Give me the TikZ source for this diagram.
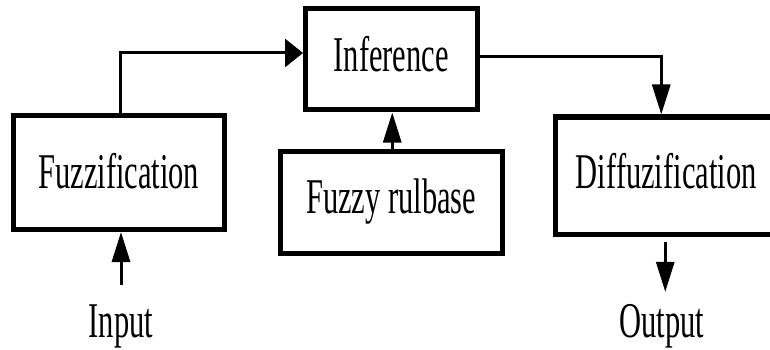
\documentclass[tikz,border=0pt]{standalone}
\usepackage{fontspec}
\setmainfont[FakeStretch=0.61]{Liberation Serif}
\usetikzlibrary{arrows.meta}

\tikzset{
  block/.style={draw, line width=5pt, rectangle, inner sep=0pt,
    font=\fontsize{50}{60}\selectfont, text height=33pt, align=center},
  tag/.style={inner sep=0pt, anchor=base,
    font=\fontsize{50}{60}\selectfont, text height=33pt, text depth=0pt},
  link/.style={line width=3pt},
  vtip/.style={-{Triangle[length=30pt,width=18pt]}},
  htip/.style={-{Triangle[length=18pt,width=28pt]}}
}

\begin{document}
\begin{tikzpicture}[x=1pt,y=-1pt]
  \useasboundingbox (0,0) rectangle (770,350);
  \clip (0,0) rectangle (770,350);

  % processing blocks
  \node[block, minimum width=171.5pt, minimum height=101pt, text depth=8pt]
    (inf) at (391.25,59.5) {Inference};
  \node[block, minimum width=210.5pt, minimum height=114pt, text depth=2pt]
    (fuzz) at (118.75,172.5) {Fuzzification};
  \node[block, minimum width=221.5pt, minimum height=102pt, text depth=11pt]
    (rule) at (391.25,202) {Fuzzy rulbase};
  \node[block, minimum width=221.5pt, minimum height=117.5pt, text depth=8.5pt]
    (diff) at (666.25,175.75) {Diffuzification};

  % signal labels
  \node[tag] (in) at (121,337) {Input};
  \node[tag] (out) at (662,337) {Output};

  % connectors
  \draw[link, htip] ([xshift=2pt]fuzz.north) |- ([yshift=6.5pt]inf.west);
  \draw[link, vtip] ([yshift=2.5pt]inf.east) -| ([xshift=-5pt]diff.north);
  \draw[link, vtip] ([xshift=1pt]rule.north) -- ([xshift=1pt]rule.north |- inf.south);
  \draw[link, vtip, shorten <=19pt] (in.north) -- (in.north |- fuzz.south);
  \draw[link, vtip, shorten <=5pt, shorten >=12pt] ([xshift=-1pt]diff.south) -- ([xshift=-1pt]diff.south |- out.north);
\end{tikzpicture}
\end{document}
